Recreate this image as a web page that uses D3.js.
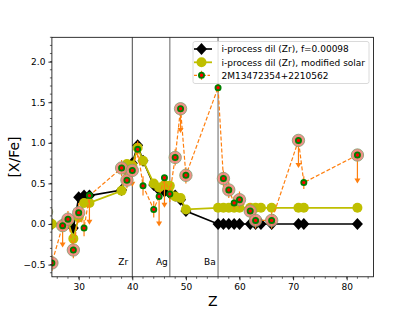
<!DOCTYPE html>
<html>
<head>
<meta charset="utf-8">
<script src="https://cdn.jsdelivr.net/npm/d3@7"></script>
<style>
  body { margin: 0; background: #fff; }
  text { font-family: "DejaVu Sans", sans-serif; fill: #000; }
</style>
</head>
<body>
<svg width="415" height="311"></svg>
<script>
// model abundances (both models on the same Z grid)
var modelZ   = [25, 27, 28, 29, 30, 31, 32, 38, 39, 40, 41, 42, 44, 45, 46, 47, 48, 49, 50,
                56, 57, 58, 59, 60, 62, 63, 64, 66, 71, 72, 82];
var dilution = [0.0, 0.0, 0.02, -0.05, 0.33, 0.35, 0.35, 0.42, 0.72, 0.75, 0.97, 0.78, 0.48, 0.42, 0.4, 0.38, 0.35, 0.3, 0.16,
                0, 0, 0, 0, 0, 0, 0, 0, 0, 0, 0, 0];
var modSolar = [0.0, -0.02, 0.03, -0.18, 0.08, 0.26, 0.26, 0.41, 0.74, 0.72, 0.94, 0.78, 0.5, 0.45, 0.48, 0.47, 0.34, 0.32, 0.18,
                0.2, 0.2, 0.2, 0.2, 0.2, 0.2, 0.2, 0.2, 0.2, 0.2, 0.2, 0.2];

// observed star
var obsZ     = [24, 25, 27, 28, 29, 30, 31, 32, 38, 39, 40, 41, 42, 44, 45, 46, 47, 48, 49, 50,
                56, 57, 58, 59, 60, 62, 63, 66, 71, 72, 82];
var obsVal   = [0.15, -0.48, -0.02, 0.06, -0.32, 0.14, -0.05, 0.35, 0.69, 0.54, 0.66, 0.92, 0.47, 0.18, 0.34, 0.57, 0.37, 0.82, 1.42, 0.60,
                1.68, 0.56, 0.42, 0.26, 0.30, 0.16, 0.045, 0.045, 1.03, 0.51, 0.85];
var obsErr   = [0.1, 0.1, 0.27, 0.1, 0.1, 0.12, 0.1, 0.36, 0.1, 0.1, 0.2, 0.1, 0.12, 0.1, 0.37, 0.37, 0.1, 0.1, 0.3, 0.1,
                0.05, 0.1, 0.1, 0.08, 0.1, 0.1, 0.1, 0.1, 0.34, 0.08, 0.35];
var obsLimit = [0, 0, 1, 0, 0, 0, 0, 1, 0, 0, 1, 0, 0, 0, 1, 1, 0, 0, 1, 0,
                0, 0, 0, 0, 0, 0, 0, 0, 1, 0, 1];
var obsHalo  = [1, 1, 1, 1, 1, 1, 0, 0, 1, 1, 1, 0, 0, 0, 0, 0, 0, 1, 1, 1,
                0, 1, 1, 0, 1, 1, 1, 1, 1, 0, 1];

var elemZ     = [40, 47, 56];
var elemName  = ["Zr", "Ag", "Ba"];
var xTicks    = [30, 40, 50, 60, 70, 80];
var yTicks    = [-0.5, 0.0, 0.5, 1.0, 1.5, 2.0];
var legendLabels = ["i-process dil (Zr), f=0.00098",
                    "i-process dil (Zr), modified solar",
                    "2M13472354+2210562"];

var svg = d3.select("svg");
var pL = 51.9, pR = 373.5, pT = 37.3, pB = 276.8;

var x = d3.scaleLinear().domain([25, 85]).range([pL, pR]);
var y = d3.scaleLinear().domain([-0.65, 2.3]).range([pB, pT]);

svg.append("defs").append("clipPath").attr("id", "clip")
  .append("rect").attr("x", pL).attr("y", pT)
  .attr("width", pR - pL).attr("height", pB - pT);

var plot = svg.append("g").attr("clip-path", "url(#clip)");

// element marker lines
plot.selectAll("line.elem").data(elemZ).enter().append("line")
    .attr("class", "elem")
    .attr("x1", function (d) { return x(d); }).attr("x2", function (d) { return x(d); })
    .attr("y1", pT).attr("y2", pB)
    .attr("stroke", function (d, i) { return i == 0 ? "#333" : "#888"; })
    .attr("stroke-width", function (d, i) { return i == 0 ? 0.9 : 1.3; });

plot.selectAll("text.elem").data(elemZ).enter().append("text")
    .attr("class", "elem")
    .attr("x", function (d) { return x(d - 2.6); })
    .attr("y", y(-0.5))
    .style("font-size", "9px")
    .text(function (d, i) { return elemName[i]; });

var line = d3.line()
    .x(function (d) { return x(d[0]); })
    .y(function (d) { return y(d[1]); });

function diamond(s) {
  return "M0," + (-s * 1.1) + "L" + s + ",0L0," + (s * 1.1) + "L" + (-s) + ",0Z";
}

// black model
var blk = modelZ.map(function (z, i) { return [z, dilution[i]]; });
plot.append("path").datum(blk).attr("d", line)
    .attr("fill", "none").attr("stroke", "#000").attr("stroke-width", 1.6);
plot.selectAll("path.dia").data(blk).enter().append("path")
    .attr("class", "dia")
    .attr("transform", function (d) { return "translate(" + x(d[0]) + "," + y(d[1]) + ")"; })
    .attr("d", diamond(5.5))
    .attr("fill", "#000");

// yellow model
var yel = modelZ.map(function (z, i) { return [z, modSolar[i]]; });
plot.append("path").datum(yel).attr("d", line)
    .attr("fill", "none").attr("stroke", "#bfbf00").attr("stroke-width", 1.8);
plot.selectAll("circle.yel").data(yel).enter().append("circle")
    .attr("class", "yel")
    .attr("cx", function (d) { return x(d[0]); })
    .attr("cy", function (d) { return y(d[1]); })
    .attr("r", 5)
    .attr("fill", "#bfbf00");

// observations
var obs = obsZ.map(function (z, i) {
  return {z: z, v: obsVal[i], e: obsErr[i], lim: obsLimit[i], halo: obsHalo[i]};
});

plot.append("path").datum(obs.map(function (d) { return [d.z, d.v]; })).attr("d", line)
    .attr("fill", "none").attr("stroke", "#ff7f0e").attr("stroke-width", 1.2)
    .attr("stroke-dasharray", "4,2");

plot.selectAll("line.err").data(obs).enter().append("line")
    .attr("class", "err")
    .attr("x1", function (d) { return x(d.z); }).attr("x2", function (d) { return x(d.z); })
    .attr("y1", function (d) { return d.lim ? y(d.v) : y(d.v + d.e); })
    .attr("y2", function (d) { return d.lim ? y(d.v - d.e) - 4 : y(d.v - d.e); })
    .attr("stroke", "#ff7f0e").attr("stroke-width", 1.2);

plot.selectAll("path.arrow").data(obs.filter(function (d) { return d.lim; })).enter().append("path")
    .attr("class", "arrow")
    .attr("transform", function (d) { return "translate(" + x(d.z) + "," + y(d.v - d.e) + ")"; })
    .attr("d", "M-3,-5L3,-5L0,0Z")
    .attr("fill", "#ff7f0e");

plot.selectAll("circle.halo").data(obs.filter(function (d) { return d.halo; })).enter().append("circle")
    .attr("class", "halo")
    .attr("cx", function (d) { return x(d.z); })
    .attr("cy", function (d) { return y(d.v); })
    .attr("r", 6.2)
    .attr("fill", "#f0857c").attr("fill-opacity", 0.9)
    .attr("stroke", "#7fa070").attr("stroke-width", 0.8);

plot.selectAll("circle.obs").data(obs).enter().append("circle")
    .attr("class", "obs")
    .attr("cx", function (d) { return x(d.z); })
    .attr("cy", function (d) { return y(d.v); })
    .attr("r", 2.6)
    .attr("fill", "#ff0000")
    .attr("stroke", "#008000").attr("stroke-width", 1.8);

// axes
var xAxis = svg.append("g").attr("transform", "translate(0," + pB + ")")
    .call(d3.axisBottom(x).tickValues(xTicks).tickSize(3.5).tickPadding(3));
var yAxis = svg.append("g").attr("transform", "translate(" + pL + ",0)")
    .call(d3.axisLeft(y).tickValues(yTicks).tickSize(3.5).tickPadding(3)
      .tickFormat(function (d) { return d3.format(".1f")(d).replace("-", "\u2212"); }));
[xAxis, yAxis].forEach(function (a) {
  a.select(".domain").remove();
  a.selectAll("line").attr("stroke", "#000").attr("stroke-width", 0.8);
  a.selectAll("text").style("font-size", "9px").style("font-family", "DejaVu Sans");
});

svg.append("g").selectAll("line").data(d3.range(26, 85, 2)).enter().append("line")
    .attr("x1", function (d) { return x(d); }).attr("x2", function (d) { return x(d); })
    .attr("y1", pB).attr("y2", pB + 2)
    .attr("stroke", "#000").attr("stroke-width", 0.6);
svg.append("g").selectAll("line").data(d3.range(-0.6, 2.31, 0.1)).enter().append("line")
    .attr("x1", pL - 2).attr("x2", pL)
    .attr("y1", function (d) { return y(d); }).attr("y2", function (d) { return y(d); })
    .attr("stroke", "#000").attr("stroke-width", 0.6);

svg.append("rect").attr("x", pL).attr("y", pT)
    .attr("width", pR - pL).attr("height", pB - pT)
    .attr("fill", "none").attr("stroke", "#000").attr("stroke-width", 0.8);

svg.append("text").attr("x", (pL + pR) / 2).attr("y", 306)
    .attr("text-anchor", "middle").style("font-size", "14px").text("Z");
svg.append("text").attr("transform", "translate(19," + (pT + pB) / 2 + ") rotate(-90)")
    .attr("text-anchor", "middle").style("font-size", "14px").text("[X/Fe]");

// legend
var lg = svg.append("g");
lg.append("rect").attr("x", 193).attr("y", 41.5).attr("width", 176).attr("height", 42)
    .attr("rx", 2).attr("fill", "#fff").attr("fill-opacity", 0.8)
    .attr("stroke", "#d0d0d0").attr("stroke-width", 0.8);
var rows = [49, 62.3, 75.3];
lg.append("line").attr("x1", 194).attr("x2", 212).attr("y1", rows[0]).attr("y2", rows[0])
    .attr("stroke", "#000").attr("stroke-width", 1.6);
lg.append("path").attr("transform", "translate(201.5," + rows[0] + ")").attr("d", diamond(5.5));
lg.append("line").attr("x1", 194).attr("x2", 212).attr("y1", rows[1]).attr("y2", rows[1])
    .attr("stroke", "#bfbf00").attr("stroke-width", 1.8);
lg.append("circle").attr("cx", 201.5).attr("cy", rows[1]).attr("r", 5).attr("fill", "#bfbf00");
lg.append("line").attr("x1", 194).attr("x2", 210).attr("y1", rows[2]).attr("y2", rows[2])
    .attr("stroke", "#ff7f0e").attr("stroke-width", 1.2).attr("stroke-dasharray", "3,1.5");
lg.append("line").attr("x1", 201.5).attr("x2", 201.5).attr("y1", rows[2] - 4.5).attr("y2", rows[2] + 4.5)
    .attr("stroke", "#ff7f0e").attr("stroke-width", 1.2);
lg.append("circle").attr("cx", 201.5).attr("cy", rows[2]).attr("r", 2.6)
    .attr("fill", "#ff0000").attr("stroke", "#008000").attr("stroke-width", 1.8);
lg.selectAll("text").data(legendLabels).enter().append("text")
    .attr("x", 221.5).attr("y", function (d, i) { return rows[i] + 3.2; })
    .style("font-size", "9px")
    .text(function (d) { return d; });
</script>
</body>
</html>
